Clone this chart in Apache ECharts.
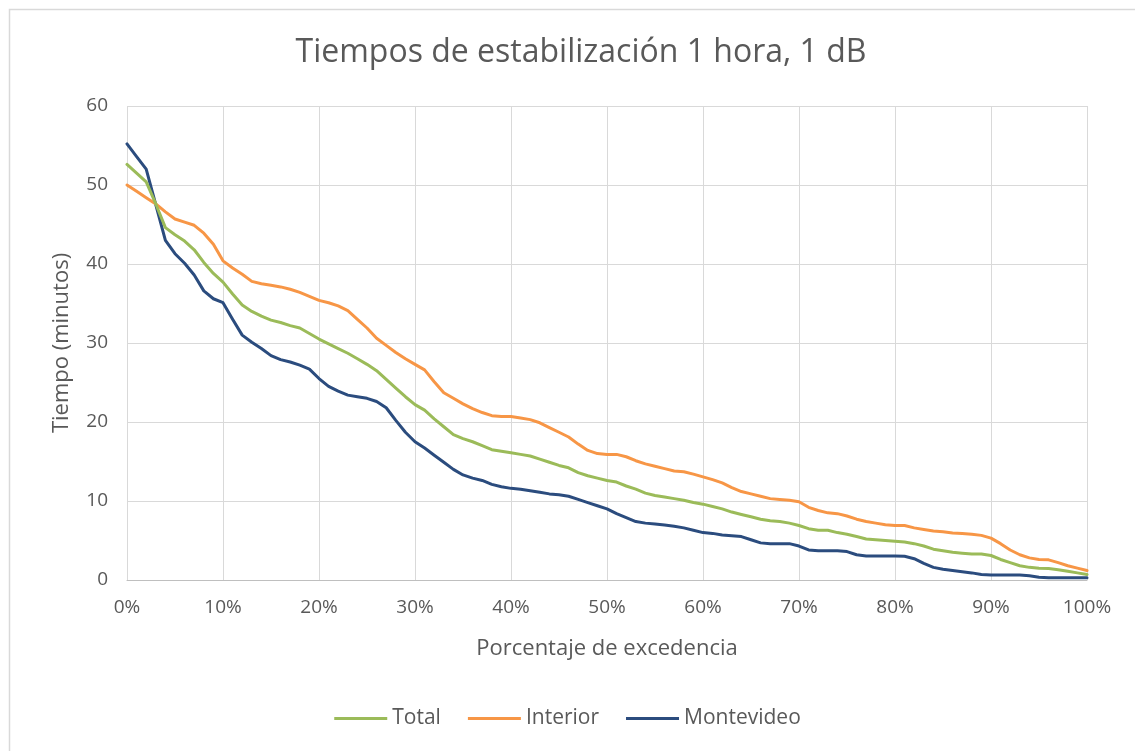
<!DOCTYPE html>
<html>
<head>
<meta charset="utf-8">
<script src="https://cdn.jsdelivr.net/npm/echarts@6/dist/echarts.min.js"></script>
<style>
html, body { margin: 0; padding: 0; background: #fff; }
#myChart { width: 1135px; height: 751px; }
</style>
</head>
<body>
<div id="myChart"></div>
<script>
// porcentaje de excedencia (eje x)
const pct = [0, 1, 2, 3, 4, 5, 6, 7, 8, 9, 10, 11, 12, 13, 14, 15, 16, 17, 18, 19, 20,
  21, 22, 23, 24, 25, 26, 27, 28, 29, 30, 31, 32, 33, 34, 35, 36, 37, 38, 39, 40,
  41, 42, 43, 44, 45, 46, 47, 48, 49, 50, 51, 52, 53, 54, 55, 56, 57, 58, 59, 60,
  61, 62, 63, 64, 65, 66, 67, 68, 69, 70, 71, 72, 73, 74, 75, 76, 77, 78, 79, 80,
  81, 82, 83, 84, 85, 86, 87, 88, 89, 90, 91, 92, 93, 94, 95, 96, 97, 98, 99, 100]

const total = [52.6, 51.5, 50.4, 47.6, 44.6, 43.7, 42.9, 41.8, 40.2, 38.8, 37.7,
  36.2, 34.8, 34.0, 33.4, 32.9, 32.6, 32.2, 31.9, 31.2, 30.5,
  29.9, 29.3, 28.7, 28.0, 27.3, 26.5, 25.4, 24.3, 23.2, 22.2,
  21.5, 20.4, 19.4, 18.4, 17.9, 17.5, 17.0, 16.5, 16.3, 16.1,
  15.9, 15.7, 15.3, 14.9, 14.5, 14.2, 13.6, 13.2, 12.9, 12.6,
  12.4, 11.9, 11.5, 11.0, 10.7, 10.5, 10.3, 10.1, 9.8, 9.6,
  9.3, 9.0, 8.6, 8.3, 8.0, 7.7, 7.5, 7.4, 7.2, 6.9,
  6.5, 6.3, 6.3, 6.0, 5.8, 5.5, 5.2, 5.1, 5.0, 4.9,
  4.8, 4.6, 4.3, 3.9, 3.7, 3.5, 3.4, 3.3, 3.3, 3.1,
  2.6, 2.2, 1.8, 1.6, 1.5, 1.45, 1.3, 1.1, 0.9, 0.7]

const interior = [50.0, 49.2, 48.4, 47.6, 46.6, 45.7, 45.3, 44.9, 43.9, 42.5, 40.4,
  39.5, 38.7, 37.8, 37.5, 37.3, 37.1, 36.8, 36.4, 35.9, 35.4,
  35.1, 34.7, 34.1, 33.0, 31.9, 30.6, 29.7, 28.8, 28.0, 27.3,
  26.6, 25.1, 23.7, 23.0, 22.3, 21.7, 21.2, 20.8, 20.7, 20.7,
  20.5, 20.3, 19.9, 19.3, 18.7, 18.1, 17.2, 16.4, 16.0, 15.9,
  15.9, 15.6, 15.1, 14.7, 14.4, 14.1, 13.8, 13.7, 13.4, 13.05,
  12.7, 12.3, 11.7, 11.2, 10.9, 10.6, 10.3, 10.2, 10.1, 9.9,
  9.2, 8.8, 8.5, 8.4, 8.1, 7.7, 7.4, 7.2, 7.0, 6.9,
  6.9, 6.6, 6.4, 6.2, 6.1, 5.95, 5.9, 5.8, 5.65, 5.3,
  4.6, 3.8, 3.2, 2.8, 2.6, 2.55, 2.2, 1.8, 1.5, 1.2]

const montevideo = [55.2, 53.6, 52.0, 47.5, 43.0, 41.3, 40.1, 38.6, 36.6, 35.6, 35.1,
  33.0, 31.0, 30.1, 29.3, 28.4, 27.9, 27.6, 27.2, 26.7, 25.5,
  24.5, 23.9, 23.4, 23.2, 23.0, 22.6, 21.8, 20.2, 18.7, 17.5,
  16.7, 15.8, 14.9, 14.0, 13.3, 12.9, 12.6, 12.1, 11.8, 11.6,
  11.5, 11.3, 11.1, 10.9, 10.8, 10.6, 10.2, 9.8, 9.4, 9.0,
  8.4, 7.9, 7.4, 7.2, 7.1, 6.95, 6.8, 6.6, 6.3, 6.0,
  5.9, 5.7, 5.6, 5.5, 5.1, 4.7, 4.6, 4.6, 4.6, 4.3,
  3.8, 3.7, 3.7, 3.7, 3.6, 3.2, 3.05, 3.05, 3.05, 3.05,
  3.0, 2.7, 2.1, 1.6, 1.35, 1.2, 1.05, 0.9, 0.7, 0.63,
  0.63, 0.63, 0.63, 0.55, 0.35, 0.3, 0.3, 0.3, 0.3, 0.3]

const seriesNames = ['Total', 'Interior', 'Montevideo']
const colores = ['#9BBB59', '#F79646', '#2B4C7E']

function pares(vals) {
  return pct.map((p, i) => [p, vals[i]])
}

const txt = '#595959'
const fuente = '"Open Sans", "Liberation Sans", sans-serif'

let myChart = echarts.init(document.getElementById('myChart'))
myChart.setOption({
  animation: false,
  textStyle: { fontFamily: fuente },
  title: {
    text: 'Tiempos de estabilización 1 hora, 1 dB',
    left: 576,
    textAlign: 'center',
    top: 32,
    textStyle: { fontSize: 32, fontWeight: 'normal', color: txt, fontFamily: fuente }
  },
  graphic: [{
    type: 'rect',
    shape: { x: 9.5, y: 9.5, width: 1300, height: 900 },
    style: { fill: 'none', stroke: '#d9d9d9', lineWidth: 1.5 },
    silent: true
  }],
  grid: { left: 127, right: 48, top: 106, bottom: 171 },
  legend: {
    bottom: 17,
    left: 'center',
    itemWidth: 53,
    itemHeight: 3,
    itemGap: 27,
    icon: 'rect',
    textStyle: { fontSize: 21, color: txt, fontFamily: fuente },
    data: seriesNames
  },
  xAxis: {
    type: 'value',
    min: 0,
    max: 100,
    interval: 10,
    name: 'Porcentaje de excedencia',
    nameLocation: 'middle',
    nameGap: 58,
    nameTextStyle: { fontSize: 22, color: txt },
    axisLine: { show: true, lineStyle: { color: '#bfbfbf', width: 1 } },
    axisTick: { show: false },
    axisLabel: { formatter: '{value}%', fontSize: 19, color: txt, margin: 18 },
    splitLine: { show: true, lineStyle: { color: '#d9d9d9', width: 1 } }
  },
  yAxis: {
    type: 'value',
    min: 0,
    max: 60,
    interval: 10,
    name: 'Tiempo (minutos)',
    nameLocation: 'middle',
    nameGap: 54,
    nameTextStyle: { fontSize: 22, color: txt },
    axisLine: { show: false },
    axisTick: { show: false },
    axisLabel: { fontSize: 19, color: txt, margin: 19 },
    splitLine: { lineStyle: { color: '#d9d9d9', width: 1 } }
  },
  series: [
    { name: 'Total', type: 'line', data: pares(total) },
    { name: 'Interior', type: 'line', data: pares(interior) },
    { name: 'Montevideo', type: 'line', data: pares(montevideo) }
  ].map((s, i) => Object.assign(s, {
    showSymbol: false,
    symbol: 'none',
    color: colores[i],
    lineStyle: { width: 3, color: colores[i], cap: 'round', join: 'round' },
    z: 3 - i
  }))
})
</script>
</body>
</html>
